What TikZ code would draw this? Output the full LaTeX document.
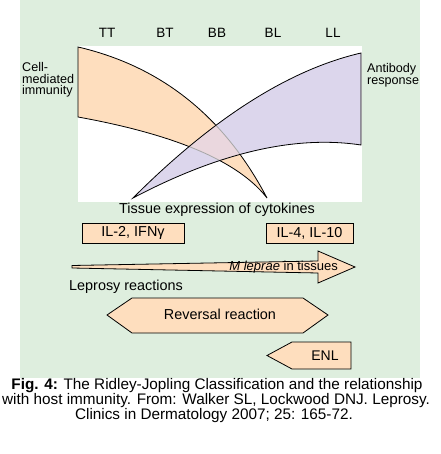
\documentclass[tikz,border=0pt]{standalone}
\usepackage{fontspec}
\setmainfont{Liberation Sans}
\usetikzlibrary{positioning}

\definecolor{bggreen}{RGB}{222,238,222}
\definecolor{cmiorange}{RGB}{254,222,190}
\definecolor{abpurple}{RGB}{220,214,236}
\definecolor{overlap}{RGB}{234,215,222}

% the two bands
\newcommand{\cmiband}{(78,47) .. controls (161.3,66.3) and (224.3,116.7) .. (267,198)
  .. controls (239,161.7) and (176,134.7) .. (78,117) -- cycle}
\newcommand{\abband}{(361,53) .. controls (289,69.7) and (213,118) .. (133,198)
  .. controls (219,152.7) and (295,135) .. (361,145) -- cycle}

\begin{document}
\begin{tikzpicture}[x=1pt,y=-1pt,every node/.style={inner sep=0pt,font=\fontsize{14.4}{16}\selectfont},
	outline/.style={draw=black,line width=0.8pt},
	cytobox/.style={outline,fill=cmiorange,minimum height=20pt},
	reaction/.style={outline,fill=cmiorange,line join=miter},
	stage/.style={font=\fontsize{13.5}{15}\selectfont},
	side/.style={anchor=west,align=left,font=\fontsize{12.6}{11.5}\selectfont},
	capline/.style={anchor=base,font=\fontsize{15.3}{11}\selectfont}]
	
	\useasboundingbox (0,0) rectangle (440,454);
	\fill[bggreen] (20,0) rectangle (420,378);
	\fill[white] (78,46) rectangle (362,202);
	
	% spectrum
	\node[stage] (tt) at (107,33) {TT};
	\node[stage] (bt) at (165,33) {BT};
	\node[stage] (bb) at (217,33) {BB};
	\node[stage] (bl) at (273,33) {BL};
	\node[stage] (ll) at (333,33) {LL};
	
	\node[side] (cmi) at (22,80) {Cell-\\mediated\\immunity};
	\node[side] (ab) at (367,75) {Antibody\\response};
	
	% bands
	\fill[cmiorange] \cmiband;
	\draw[outline] \cmiband;
	\fill[abpurple] \abband;
	\begin{scope}
		\clip \cmiband;
		\fill[overlap] \abband;
	\end{scope}
	\begin{scope}
		\clip \abband;
		\draw[black!35,line width=0.8pt] \cmiband;
	\end{scope}
	\draw[outline] \abband;
	
	% cytokines
	\node (tissue) at (217,210) {Tissue expression of cytokines};
	\node[cytobox,minimum width=102pt] (th1) at (133,233) {IL-2, IFNγ};
	\node[cytobox,minimum width=87pt] (th2) at (309.5,233) {IL-4, IL-10};
	
	% bacterial load
	\coordinate (mlA) at (72,265.5);
	\coordinate (mlB) at (318,261);
	\coordinate (mlC) at (318,251);
	\coordinate (mlD) at (355,267);
	\coordinate (mlE) at (318,283);
	\coordinate (mlF) at (318,273);
	\coordinate (mlG) at (72,268);
	\draw[reaction] (mlA) -- (mlB) -- (mlC) -- (mlD) -- (mlE) -- (mlF) -- (mlG) -- cycle;
	\node[anchor=east,font=\fontsize{13}{15}\selectfont] (mlep) at (338,267) {\textit{M leprae} in tissues};
	
	% reactions
	\node[anchor=west] (lepr) at (69,287) {Leprosy reactions};
	\draw[reaction] (107,315) -- (132,298) -- (303,298) -- (328,315) -- (303,333) -- (132,333) -- cycle;
	\node (rr) at (220,314) {Reversal reaction};
	\draw[reaction] (267,355.5) -- (292,342) -- (351,342) -- (351,369) -- (292,369) -- cycle;
	\node[font=\fontsize{14}{15}\selectfont] (enl) at (325,356) {ENL};
	
	% caption
	\node[capline] (cap1) at (217,389) {\textbf{Fig. 4:} The Ridley-Jopling Classification and the relationship};
	\node[capline] (cap2) at (216,404) {with host immunity. From: Walker SL, Lockwood DNJ. Leprosy.};
	\node[capline] (cap3) at (214,419) {Clinics in Dermatology 2007; 25: 165-72.};
\end{tikzpicture}
\end{document}
